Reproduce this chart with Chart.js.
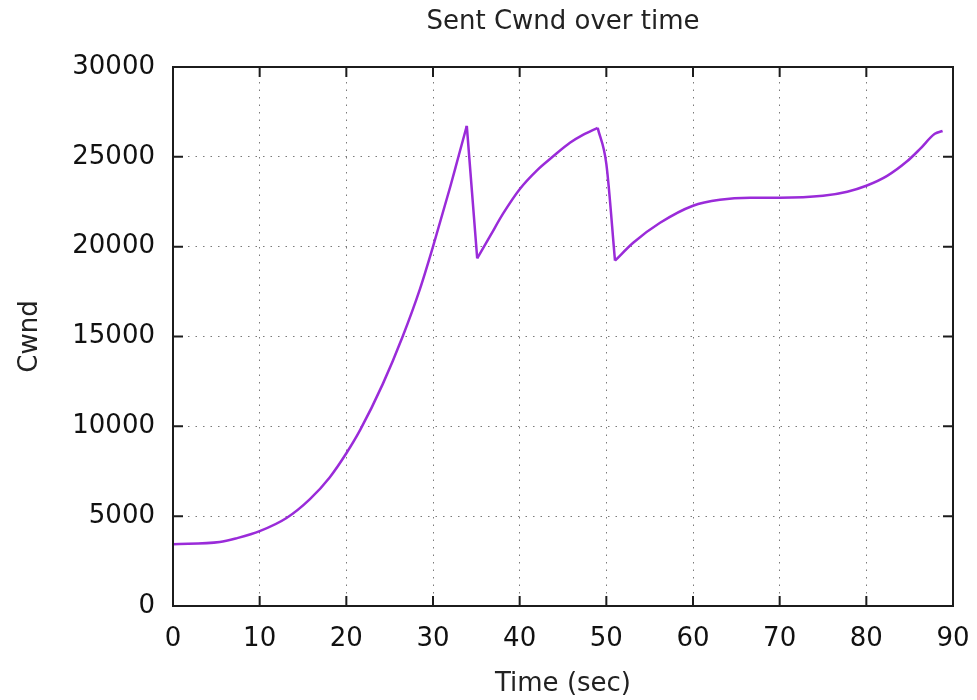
<!DOCTYPE html>
<html>
<head>
<meta charset="utf-8">
<title>Sent Cwnd over time</title>
<script src="https://cdn.jsdelivr.net/npm/chart.js@4.4.1/dist/chart.umd.min.js"></script>
<style>
    html, body { margin: 0; padding: 0; background: #fff; }
    #wrap { width: 977px; height: 700px; }
</style>
</head>
<body>
<div id="wrap"><canvas id="cwnd-chart" width="977" height="700"></canvas></div>
<script>
// Values.
const timeSec = [0, 5.4, 7.4, 10, 13.1, 15.8, 18.1, 20, 21.6, 24.2, 26.5, 28.5, 30, 32, 32.9, 33.9,
    35.1, 36.6, 38.1, 40, 42, 43.8, 45.8, 47.3, 49.0, 50, 51.0, 53.1, 56.2, 60, 63.1, 66.6, 70, 75,
    77.8, 80, 82.4, 84.7, 86.2, 87.9, 88.8];
const cwnd = [3440, 3560, 3780, 4170, 4900, 5950, 7170, 8500, 9800, 12350, 15000, 17650, 20000, 23350,
    24950, 26720, 19350, 20600, 21850, 23200, 24250, 25000, 25780, 26220, 26610, 24610, 19220, 20220,
    21330, 22280, 22610, 22720, 22720, 22830, 23060, 23390, 23940, 24750, 25440, 26280, 26440];
// sample indices where the window is cut (sharp corners in the trace)
const cornerIdx = [15, 16, 24, 26];
const xTicks = [0, 10, 20, 30, 40, 50, 60, 70, 80, 90];
const yTicks = [0, 5000, 10000, 15000, 20000, 25000, 30000];

const FONT = "'DejaVu Sans', sans-serif";
const GRID_COLOR = '#7a7a7a';
const FRAME_COLOR = '#1c1c1c';
const LINE_COLOR = '#9a2bd9';
const TITLE = 'Sent Cwnd over time';

function ready(fn) {
    if (document.readyState !== 'loading') {
        fn();
    } else {
        document.addEventListener('DOMContentLoaded', fn);
    }
}

// gnuplot-style box with inward ticks on all four sides, title centred on the plot
const framePlugin = {
    id: 'frame',
    afterDatasetsDraw(chart) {
        const { ctx, chartArea: a, scales } = chart;
        const tick = 10;
        ctx.save();
        ctx.strokeStyle = FRAME_COLOR;
        ctx.lineWidth = 2;
        ctx.beginPath();
        xTicks.forEach(v => {
            const px = scales.x.getPixelForValue(v);
            ctx.moveTo(px, a.bottom);
            ctx.lineTo(px, a.bottom - tick);
            ctx.moveTo(px, a.top);
            ctx.lineTo(px, a.top + tick);
        });
        yTicks.forEach(v => {
            const py = scales.y.getPixelForValue(v);
            ctx.moveTo(a.left, py);
            ctx.lineTo(a.left + tick, py);
            ctx.moveTo(a.right, py);
            ctx.lineTo(a.right - tick, py);
        });
        ctx.stroke();
        ctx.strokeRect(a.left, a.top, a.right - a.left, a.bottom - a.top);

        ctx.fillStyle = '#222';
        ctx.font = `26px ${FONT}`;
        ctx.textAlign = 'center';
        ctx.textBaseline = 'middle';
        ctx.fillText(TITLE, (a.left + a.right) / 2, 22);
        ctx.restore();
    }
};

function axisTicks(values) {
    return scale => {
        scale.ticks = values.map(value => ({ value }));
    };
}

// Split the trace at its corners so each smooth stretch can be interpolated on its own.
function buildPieces() {
    const cuts = [0, ...cornerIdx, timeSec.length - 1];
    const pieces = [];
    for (let i = 0; i < cuts.length - 1; i += 1) {
        const pts = [];
        for (let k = cuts[i]; k <= cuts[i + 1]; k += 1) {
            pts.push({ x: timeSec[k], y: cwnd[k] });
        }
        pieces.push({
            data: pts,
            borderColor: LINE_COLOR,
            borderWidth: 2.5,
            borderJoinStyle: 'round',
            pointRadius: 0,
            cubicInterpolationMode: 'monotone',
            fill: false
        });
    }
    return pieces;
}

function drawChart() {
    const ctx = document.getElementById('cwnd-chart').getContext('2d');

    new Chart(ctx, {
        type: 'line',
        data: { datasets: buildPieces() },
        options: {
            responsive: false,
            animation: false,
            layout: { padding: { left: 15, right: 24, top: 67, bottom: 0 } },
            plugins: {
                legend: { display: false },
                tooltip: { enabled: false },
                title: { display: false }
            },
            scales: {
                x: {
                    type: 'linear',
                    min: 0,
                    max: 90,
                    afterBuildTicks: axisTicks(xTicks),
                    afterFit: scale => {
                        scale.height = 94;
                        scale.paddingLeft = 0;
                        scale.paddingRight = 0;
                    },
                    ticks: {
                        color: '#111',
                        font: { family: FONT, size: 26 },
                        padding: 18,
                        maxRotation: 0,
                        callback: value => String(value)
                    },
                    grid: { color: GRID_COLOR, lineWidth: 1, drawTicks: false },
                    border: { display: false, dash: [1.5, 6] },
                    title: {
                        display: true,
                        text: 'Time (sec)',
                        color: '#222',
                        font: { family: FONT, size: 26 },
                        padding: 0
                    }
                },
                y: {
                    min: 0,
                    max: 30000,
                    afterBuildTicks: axisTicks(yTicks),
                    afterFit: scale => { scale.width = 158; },
                    ticks: {
                        color: '#111',
                        font: { family: FONT, size: 26 },
                        padding: 18,
                        callback: value => String(value)
                    },
                    grid: { color: GRID_COLOR, lineWidth: 1, drawTicks: false },
                    border: { display: false, dash: [1.5, 6] },
                    title: {
                        display: true,
                        text: 'Cwnd',
                        color: '#222',
                        font: { family: FONT, size: 26 },
                        padding: 0
                    }
                }
            }
        },
        plugins: [framePlugin]
    });
}

ready(drawChart);
</script>
</body>
</html>
